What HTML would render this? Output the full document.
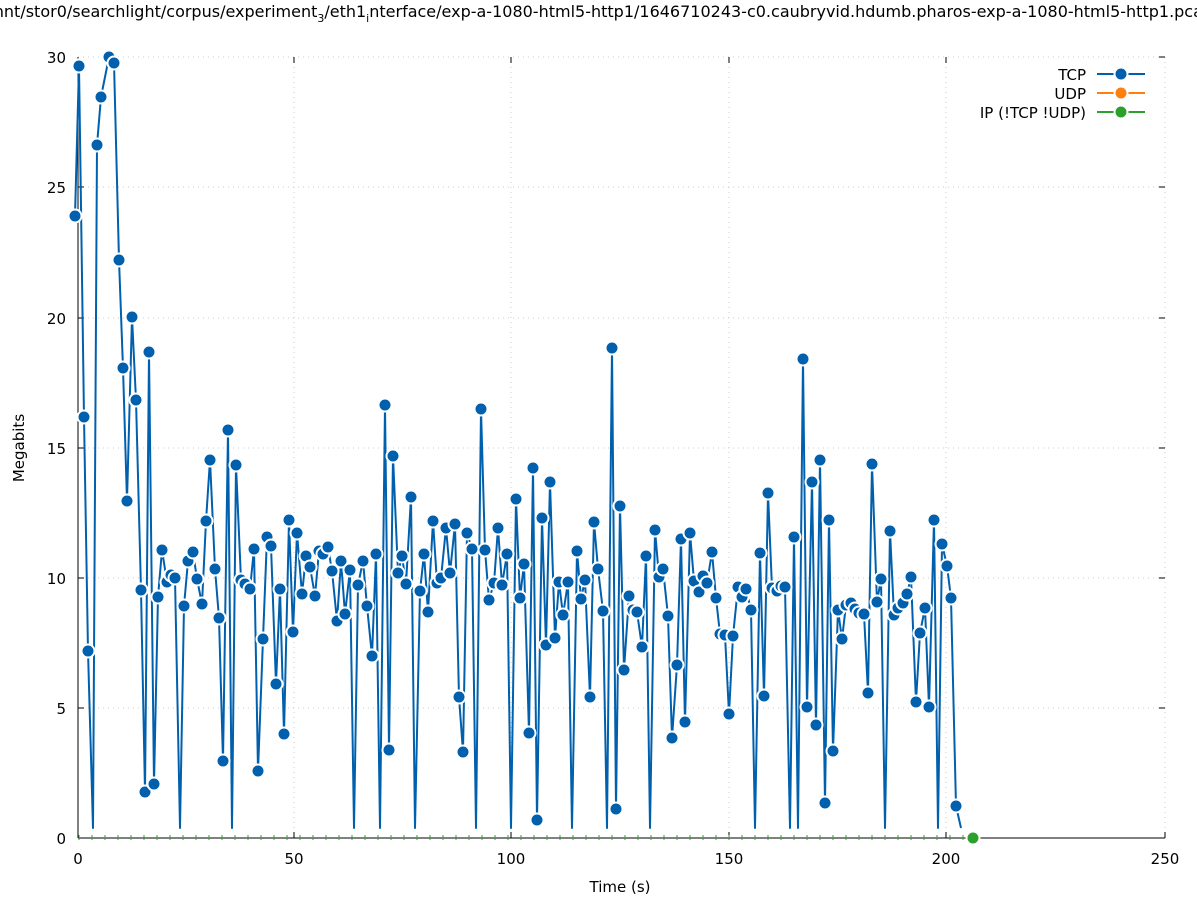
<!DOCTYPE html>
<html><head><meta charset="utf-8"><style>
body{margin:0;background:#fff;width:1197px;height:900px;overflow:hidden;font-family:"DejaVu Sans",sans-serif}
svg text{font-family:"DejaVu Sans","Liberation Sans",sans-serif;font-size:15px;fill:#000}
</style></head><body>
<svg id="s" width="1197" height="900" xmlns="http://www.w3.org/2000/svg">
<text x="598" y="17" text-anchor="middle" style="font-size:16px">/mnt/stor0/searchlight/corpus/experiment<tspan style="font-size:11px" dy="5">3</tspan><tspan dy="-5">/eth1</tspan><tspan style="font-size:11px" dy="5">i</tspan><tspan dy="-5">nterface/exp-a-1080-html5-http1/1646710243-c0.caubryvid.hdumb.pharos-exp-a-1080-html5-http1.pcap</tspan></text>
<g stroke="#ccc" stroke-dasharray="1,4" stroke-width="1">
<line x1="294" y1="57" x2="294" y2="838"/><line x1="511" y1="57" x2="511" y2="838"/><line x1="729" y1="57" x2="729" y2="838"/><line x1="946" y1="57" x2="946" y2="838"/><line x1="1165" y1="57" x2="1165" y2="838"/>
<line x1="78" y1="708" x2="1165" y2="708"/><line x1="78" y1="578" x2="1165" y2="578"/><line x1="78" y1="448" x2="1165" y2="448"/><line x1="78" y1="318" x2="1165" y2="318"/><line x1="78" y1="187" x2="1165" y2="187"/><line x1="78" y1="57" x2="1165" y2="57"/>
</g>
<g stroke="#000" stroke-width="1">
<line x1="78" y1="57" x2="78" y2="838"/><line x1="78" y1="838" x2="1165" y2="838"/>
<line x1="294" y1="838" x2="294" y2="832"/><line x1="511" y1="838" x2="511" y2="832"/><line x1="729" y1="838" x2="729" y2="832"/><line x1="946" y1="838" x2="946" y2="832"/><line x1="1165" y1="838" x2="1165" y2="832"/>
<line x1="294" y1="57" x2="294" y2="63"/><line x1="511" y1="57" x2="511" y2="63"/><line x1="729" y1="57" x2="729" y2="63"/><line x1="946" y1="57" x2="946" y2="63"/>
<line x1="78" y1="708" x2="84" y2="708"/><line x1="78" y1="578" x2="84" y2="578"/><line x1="78" y1="448" x2="84" y2="448"/><line x1="78" y1="318" x2="84" y2="318"/><line x1="78" y1="187" x2="84" y2="187"/>
<line x1="1165" y1="708" x2="1159" y2="708"/><line x1="1165" y1="578" x2="1159" y2="578"/><line x1="1165" y1="448" x2="1159" y2="448"/><line x1="1165" y1="318" x2="1159" y2="318"/><line x1="1165" y1="187" x2="1159" y2="187"/><line x1="1165" y1="57" x2="1159" y2="57"/>
</g>
<g text-anchor="middle">
<text x="78" y="864">0</text><text x="294" y="864">50</text><text x="511" y="864">100</text><text x="729" y="864">150</text><text x="946" y="864">200</text><text x="1165" y="864">250</text>
<text x="620" y="892">Time (s)</text>
</g>
<g text-anchor="end">
<text x="66" y="844">0</text><text x="66" y="714">5</text><text x="66" y="584">10</text><text x="66" y="454">15</text><text x="66" y="324">20</text><text x="66" y="193">25</text><text x="66" y="63">30</text>
</g>
<text x="24" y="448" transform="rotate(-90 24 448)" text-anchor="middle">Megabits</text>
<g id="green" stroke="#2ca02c" stroke-width="1"></g>
<g id="d"></g>
<circle cx="973" cy="838" r="6.5" fill="#2ca02c" stroke="#fff" stroke-width="2"/>
<g text-anchor="end">
<text x="1086" y="80">TCP</text><text x="1086" y="99">UDP</text><text x="1086" y="118">IP (!TCP  !UDP)</text>
</g>
<line x1="1097" y1="74" x2="1145" y2="74" stroke="#0060ad" stroke-width="2"/><circle cx="1121" cy="74" r="6.5" fill="#0060ad" stroke="#fff" stroke-width="2"/>
<line x1="1097" y1="93" x2="1145" y2="93" stroke="#ff7f0e" stroke-width="2"/><circle cx="1121" cy="93" r="6.5" fill="#ff7f0e" stroke="#fff" stroke-width="2"/>
<line x1="1097" y1="112" x2="1145" y2="112" stroke="#2ca02c" stroke-width="2"/><circle cx="1121" cy="112" r="6.5" fill="#2ca02c" stroke="#fff" stroke-width="2"/>
</svg>
<script>
var p=[[75,216],[79,66],[84,417],[88,651],[93,828],[97,145],[101,97],[109,57],[114,63],[119,260],[123,368],[127,501],[132,317],[136,400],[141,590],[145,792],[149,352],[154,784],[158,597],[162,550],[167,582],[171,575],[175,578],[180,828],[184,606],[188,561],[193,552],[197,579],[202,604],[206,521],[210,460],[215,569],[219,618],[223,761],[228,430],[232,828],[236,465],[241,580],[245,584],[250,589],[254,549],[258,771],[263,639],[267,537],[271,546],[276,684],[280,589],[284,734],[289,520],[293,632],[297,533],[302,594],[306,556],[310,567],[315,596],[319,551],[323,554],[328,547],[332,571],[337,621],[341,561],[345,614],[350,570],[354,828],[358,585],[363,561],[367,606],[372,656],[376,554],[380,828],[385,405],[389,750],[393,456],[398,573],[402,556],[406,584],[411,497],[415,828],[420,591],[424,554],[428,612],[433,521],[437,583],[441,578],[446,528],[450,573],[455,524],[459,697],[463,752],[467,533],[472,549],[476,828],[481,409],[485,550],[489,600],[494,583],[498,528],[502,585],[507,554],[511,828],[516,499],[520,598],[524,564],[529,733],[533,468],[537,820],[542,518],[546,645],[550,482],[555,638],[559,582],[563,615],[568,582],[572,828],[577,551],[581,599],[585,580],[590,697],[594,522],[598,569],[603,611],[607,828],[612,348],[616,809],[620,506],[624,670],[629,596],[633,610],[637,612],[642,647],[646,556],[650,828],[655,530],[659,577],[663,569],[668,616],[672,738],[677,665],[681,539],[685,722],[690,533],[694,581],[699,592],[703,576],[707,583],[712,552],[716,598],[720,634],[725,635],[729,714],[733,636],[738,587],[742,597],[746,589],[751,610],[755,828],[760,553],[764,696],[768,493],[772,588],[777,591],[781,586],[785,587],[790,828],[794,537],[798,828],[803,359],[807,707],[812,482],[816,725],[820,460],[825,803],[829,520],[833,751],[838,610],[842,639],[846,605],[851,603],[855,609],[859,613],[864,614],[868,693],[872,464],[877,602],[881,579],[885,828],[890,531],[894,615],[898,608],[903,603],[907,594],[911,577],[916,702],[920,633],[925,608],[929,707],[934,520],[938,828],[942,544],[947,566],[951,598],[956,806],[961,828]];
var ns="http://www.w3.org/2000/svg",d=document.getElementById("d"),g=document.getElementById("green");
var pl=document.createElementNS(ns,"polyline");pl.setAttribute("points",p.map(function(a){return a.join(",")}).join(" "));
pl.setAttribute("fill","none");pl.setAttribute("stroke","#0060ad");pl.setAttribute("stroke-width","2");pl.setAttribute("stroke-linejoin","round");d.appendChild(pl);
p.forEach(function(a){if(a[1]>=826)return;var c=document.createElementNS(ns,"circle");c.setAttribute("cx",a[0]);c.setAttribute("cy",a[1]);c.setAttribute("r","6.5");c.setAttribute("fill","#0060ad");c.setAttribute("stroke","#fff");c.setAttribute("stroke-width","2");d.appendChild(c);});
for(var x=79;x<965;x+=13){var l=document.createElementNS(ns,"line");l.setAttribute("x1",x);l.setAttribute("x2",x);l.setAttribute("y1",835);l.setAttribute("y2",840);g.appendChild(l);}
</script>
</body></html>
